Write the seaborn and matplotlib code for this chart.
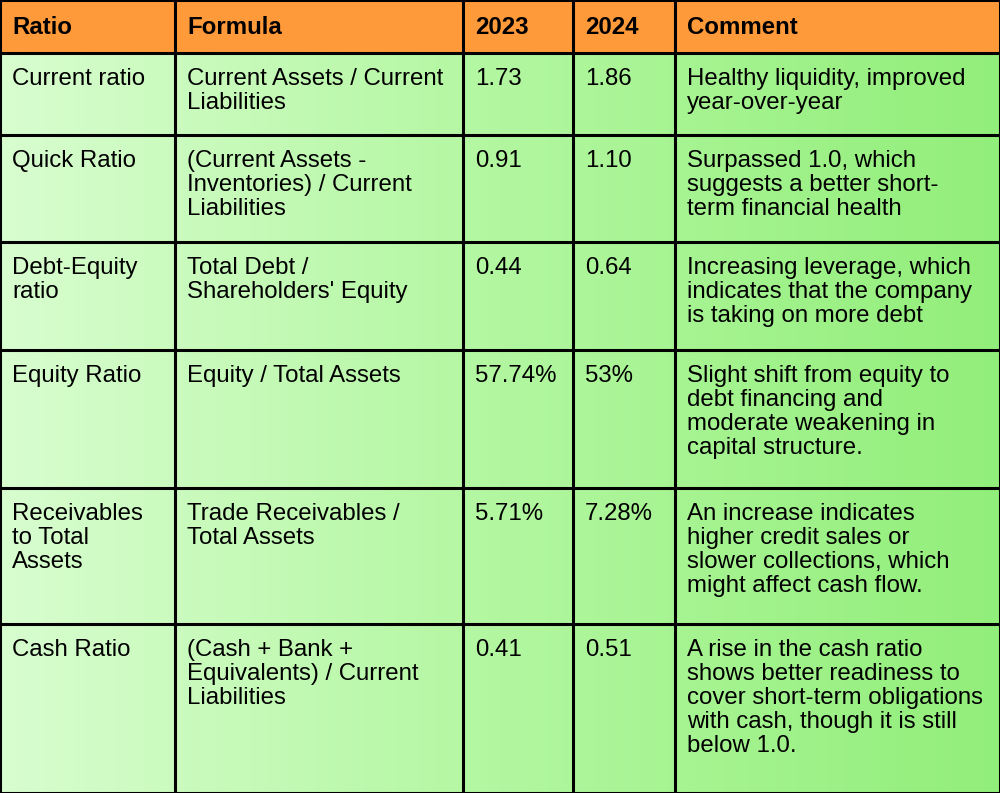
import matplotlib
matplotlib.use("Agg")
import matplotlib.pyplot as plt
import numpy as np
import seaborn as sns
from matplotlib.colors import LinearSegmentedColormap

headers = ["Ratio", "Formula", "2023", "2024", "Comment"]
ratios = ["Current ratio", "Quick Ratio", "Debt-Equity\nratio", "Equity Ratio",
          "Receivables\nto Total\nAssets", "Cash Ratio"]
formulas = ["Current Assets / Current\nLiabilities",
            "(Current Assets -\nInventories) / Current\nLiabilities",
            "Total Debt /\nShareholders' Equity",
            "Equity / Total Assets",
            "Trade Receivables /\nTotal Assets",
            "(Cash + Bank +\nEquivalents) / Current\nLiabilities"]
values_2023 = ["1.73", "0.91", "0.44", "57.74%", "5.71%", "0.41"]
values_2024 = ["1.86", "1.10", "0.64", "53%", "7.28%", "0.51"]
comments = ["Healthy liquidity, improved\nyear-over-year",
            "Surpassed 1.0, which\nsuggests a better short-\nterm financial health",
            "Increasing leverage, which\nindicates that the company\nis taking on more debt",
            "Slight shift from equity to\ndebt financing and\nmoderate weakening in\ncapital structure.",
            "An increase indicates\nhigher credit sales or\nslower collections, which\nmight affect cash flow.",
            "A rise in the cash ratio\nshows better readiness to\ncover short-term obligations\nwith cash, though it is still\nbelow 1.0."]

col_edges = [0, 175, 463, 573, 675, 1000]
row_edges = [0, 53, 135, 242, 350, 488, 624, 793]

sns.set_style("white")
fig = plt.figure(figsize=(10, 7.93), dpi=100)
ax = fig.add_axes([0, 0, 1, 1])
ax.set_xlim(0, 1000)
ax.set_ylim(793, 0)
ax.axis("off")

# green gradient body
cmap = LinearSegmentedColormap.from_list("g", ["#d8fdcf", "#b2f7a0", "#92ee7a"])
grad = np.tile(np.linspace(0, 1, 256), (2, 1))
ax.imshow(grad, cmap=cmap, extent=[0, 1000, 793, 53], aspect="auto", zorder=0)
ax.add_patch(plt.Rectangle((0, 0), 1000, 53, color="#ff9a3a", zorder=1))

for x in col_edges:
    ax.plot([x, x], [0, 793], color="black", lw=2.2, zorder=3, solid_capstyle="projecting")
for y in row_edges:
    ax.plot([0, 1000], [y, y], color="black", lw=2.2, zorder=3, solid_capstyle="projecting")

font = dict(family="Liberation Sans", fontsize=17.3, color="black", va="top", ha="left",
            linespacing=1.12, zorder=4)
for j, h in enumerate(headers):
    ax.text(col_edges[j] + 12, 16, h, fontweight="bold", **font)

columns = [ratios, formulas, values_2023, values_2024, comments]
for i in range(len(ratios)):
    top = row_edges[i + 1]
    for j, col in enumerate(columns):
        ax.text(col_edges[j] + 12, top + 15, col[i], **font)

fig.savefig("out.png", dpi=100)
